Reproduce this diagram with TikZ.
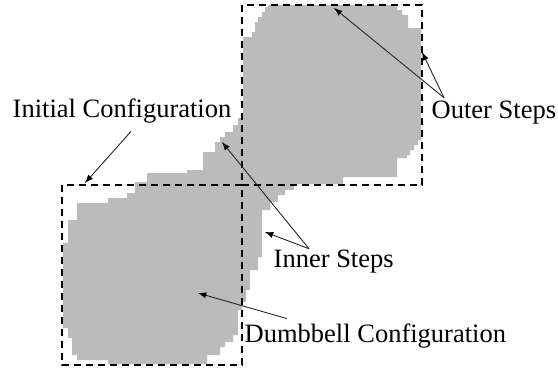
\documentclass[tikz,border=0pt]{standalone}
\usepackage{fontspec}
\setmainfont{Liberation Serif}
\usepackage{tikz}
\usetikzlibrary{arrows, positioning}
\definecolor{blobgray}{RGB}{187,187,187}

\begin{document}
\begin{tikzpicture}[x=0.5pt,y=-0.5pt,font=\fontsize{13.25}{16}\selectfont,>=latex,line width=0.25mm]
	
	\tikzset{lbl st/.style={inner sep=0pt, anchor=base west},
		box st/.style={dashed, dash pattern=on 3.5pt off 2.5pt, line width=1.1pt},
		arr st/.style={line width=0.45pt, draw=black!85}}
	
	\useasboundingbox (0,0) rectangle (558,370);
	
	% the dumbbell
	\fill[blobgray] (268,5) -| (397,10) -| (402,15) -| (408,28) -| (421,140) -| (418,145)
		-| (414,150) -| (410,155) -| (407,158) -| (397,177) -| (343,184) -| (294,190)
		-| (285,195) -| (278,202) -| (270,210) -| (262,257) -| (258,270) -| (250,290)
		-| (246,302) -| (242,310) -| (238,335) -| (233,342) -| (225,347) -| (220,355)
		-| (207,364) -| (108,360) -| (77,355) -| (72,338) -| (68,328) -| (63,243)
		-| (68,220) -| (77,203) -| (108,198) -| (127,193) -| (135,182) -| (147,173)
		-| (187,170) -| (203,152) -| (215,142) -| (220,137) -| (225,132) -| (233,125)
		-| (238,118) -| (243,37) -| (252,32) -| (255,22) -| (258,17) -| (262,12)
		-| (265,7) -| (268,5) -- cycle;
	
	\draw[box st] (242,5) rectangle (422,185);
	\draw[box st] (62,185) rectangle (242,365);
	
	\node[lbl st] (init) at (12,117) {Initial Configuration};
	\node[lbl st] (outer) at (431,118) {Outer Steps};
	\node[lbl st] (inner) at (273,267) {Inner Steps};
	\node[lbl st] (dumb) at (244,342) {Dumbbell Configuration};
	
	\coordinate (init tip) at (85,183);
	\coordinate (outer tip a) at (334,8);
	\coordinate (outer tip b) at (422,52);
	\coordinate (inner tip a) at (222,142);
	\coordinate (inner tip b) at (265,232);
	\coordinate (dumb tip) at (198,293);
	
	\draw[arr st]
	([xshift=4.5pt,yshift=-4pt]init.south) edge[->] (init tip)
	([xshift=6.5pt,yshift=1pt]outer.north west) edge[->] (outer tip a)
	([xshift=6.5pt,yshift=1pt]outer.north west) edge[->] (outer tip b)
	([xshift=18pt]inner.north west) edge[->] (inner tip a)
	([xshift=18pt]inner.north west) edge[->] (inner tip b)
	([xshift=21.5pt,yshift=2pt]dumb.north west) edge[->] (dumb tip);
	
\end{tikzpicture}
\end{document}
